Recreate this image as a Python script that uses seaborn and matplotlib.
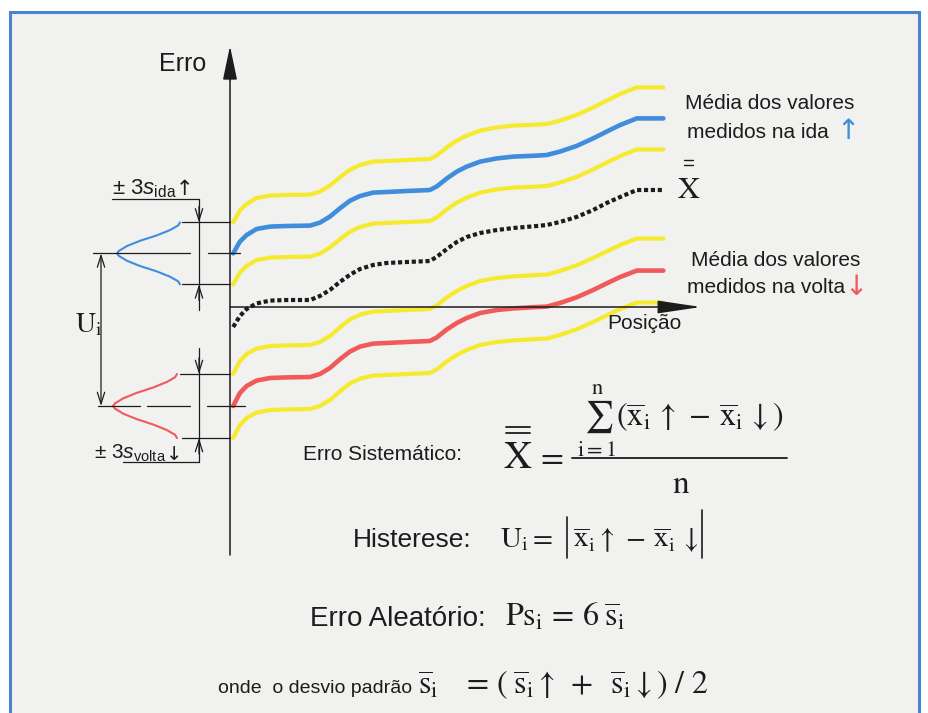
import matplotlib
matplotlib.use("Agg")
import matplotlib.pyplot as plt
import numpy as np
import pandas as pd
import seaborn as sns
from matplotlib.patches import Rectangle

# ---------------------------------------------------------------------------
# Curves: mean error along the travel (ida = going up, volta = coming back)
# ---------------------------------------------------------------------------
posicao = [0.07, 0.22, 0.37, 0.59, 0.89, 1.26, 1.78, 2.00, 2.22, 2.44, 2.67,
           2.89, 3.18, 3.48, 3.93, 4.44, 4.59, 4.82, 5.04, 5.26, 5.56, 5.93,
           6.30, 6.82, 7.04, 7.33, 7.70, 8.07, 8.37, 8.67, 9.04, 9.63]

media_ida = [2.68, 3.27, 3.60, 3.90, 4.02, 4.05, 4.07, 4.22, 4.52, 4.93, 5.32,
             5.55, 5.72, 5.75, 5.80, 5.85, 6.02, 6.43, 6.77, 7.02, 7.27, 7.43,
             7.52, 7.57, 7.60, 7.77, 8.05, 8.43, 8.77, 9.10, 9.43, 9.43]

media_volta = [-4.95, -4.30, -3.95, -3.68, -3.55, -3.52, -3.50, -3.35, -3.05,
               -2.62, -2.22, -1.98, -1.83, -1.80, -1.75, -1.70, -1.53, -1.12,
               -0.80, -0.55, -0.30, -0.15, -0.07, 0.00, 0.02, 0.20, 0.48, 0.85,
               1.18, 1.50, 1.82, 1.82]

erro_sistematico = [-1.00, -0.45, -0.10, 0.18, 0.32, 0.35, 0.35, 0.55, 0.85,
                    1.25, 1.62, 1.90, 2.10, 2.20, 2.25, 2.30, 2.50, 2.90, 3.25,
                    3.50, 3.70, 3.85, 3.95, 4.05, 4.10, 4.25, 4.50, 4.85, 5.20,
                    5.50, 5.85, 5.85]

# +/- 3 s half widths of the dispersion bands
faixa_ida = 1.55
faixa_volta = 1.60

# Side-view bell profile of the dispersion (fraction of half band, fraction of depth)
sino_frac_y = [0.0, 0.08, 0.24, 0.41, 0.58, 0.75, 0.90, 1.0]
sino_frac_x = [0.0, 0.03, 0.16, 0.37, 0.63, 0.84, 0.97, 1.0]

# ---------------------------------------------------------------------------
W, H = 929, 713
X0PX, Y0PX = 230.0, 307.0     # origin of the Erro x Posição axes (pixels)
SX, SY = 45.0, 20.0           # pixels per unit


def xd(px):
    return (px - X0PX) / SX


def yd(py):
    return (Y0PX - py) / SY


sns.set_theme(style="white")
plt.rcParams["font.family"] = ["Liberation Sans", "DejaVu Sans"]
plt.rcParams["mathtext.fontset"] = "stix"
plt.rcParams["mathtext.rm"] = "Liberation Sans"
plt.rcParams["mathtext.it"] = "Liberation Sans:italic"
plt.rcParams["mathtext.bf"] = "Liberation Sans:bold"

ink = "#1c1c1c"
azul = "#3f8ddc"
vermelho = "#f05a5a"
amarelo = "#f6ea2f"

fig = plt.figure(figsize=(W / 100, H / 100), dpi=100)
fig.patch.set_facecolor("white")
ax = fig.add_axes([0, 0, 1, 1])
ax.set_xlim(xd(0), xd(W))
ax.set_ylim(yd(H), yd(0))
ax.axis("off")

# paper panel with blue frame
ax.add_patch(Rectangle((10 / W, -0.05), 909 / W, 1 - 12 / H + 0.05,
                       transform=ax.transAxes, facecolor="#f1f1ef",
                       edgecolor="#4b82d4", lw=2.2, zorder=0, clip_on=False))

df = pd.DataFrame({"posicao": posicao, "ida": media_ida,
                   "volta": media_volta, "xbar": erro_sistematico})

# dispersion bands (yellow) and mean curves
for col, faixa in (("ida", faixa_ida), ("volta", faixa_volta)):
    for sgn in (1, -1):
        sns.lineplot(x=df["posicao"], y=df[col] + sgn * faixa, ax=ax,
                     color=amarelo, lw=3.0, estimator=None, sort=False,
                     solid_capstyle="round", solid_joinstyle="round", zorder=3)
sns.lineplot(x=df["posicao"], y=df["ida"], ax=ax, color=azul, lw=3.3,
             estimator=None, sort=False, solid_capstyle="round",
             solid_joinstyle="round", zorder=4)
sns.lineplot(x=df["posicao"], y=df["volta"], ax=ax, color=vermelho, lw=3.3,
             estimator=None, sort=False, solid_capstyle="round",
             solid_joinstyle="round", zorder=4)
sns.lineplot(x=df["posicao"], y=df["xbar"], ax=ax, color=ink, lw=3.0,
             estimator=None, sort=False, linestyle=(0, (1.0, 0.65)),
             dash_capstyle="butt", zorder=4)

# Erro / Posição axes with arrows
ax.plot([0, 0], [yd(555), yd(70)], color=ink, lw=1.1, zorder=5)
ax.annotate("", xy=(0, yd(46)), xytext=(0, yd(80)),
            arrowprops=dict(arrowstyle="-|>,head_length=1.05,head_width=0.22",
                            mutation_scale=20, lw=1.1, color=ink,
                            shrinkA=0, shrinkB=0), zorder=6)
ax.annotate("", xy=(xd(701), 0), xytext=(0, 0),
            arrowprops=dict(arrowstyle="-|>,head_length=1.35,head_width=0.2",
                            mutation_scale=20, lw=1.1, color=ink,
                            shrinkA=0, shrinkB=0), zorder=6)
ax.text(xd(159), yd(71), "Erro", fontsize=18, ha="left", va="baseline", color=ink)
ax.text(xd(607), yd(329), "Posição", fontsize=15, ha="left", va="baseline", color=ink)

# right side labels
ax.text(xd(770), yd(109), "Média dos valores", fontsize=15, ha="center",
        va="baseline", color=ink)
ax.text(xd(687), yd(138), "medidos na ida", fontsize=15, ha="left",
        va="baseline", color=ink)
ax.text(xd(848), yd(139), "↑", fontsize=20, ha="center", va="baseline",
        color=azul, family="DejaVu Sans")
ax.text(xd(689), yd(198), r"$\mathrm{X}$", fontsize=22, ha="center",
        va="baseline", color=ink)
ax.plot([xd(684), xd(693)], [yd(160), yd(160)], color=ink, lw=1.0)
ax.plot([xd(684), xd(693)], [yd(165), yd(165)], color=ink, lw=1.0)
ax.text(xd(776), yd(266), "Média dos valores", fontsize=15, ha="center",
        va="baseline", color=ink)
ax.text(xd(687), yd(293), "medidos na volta", fontsize=15, ha="left",
        va="baseline", color=ink)
ax.text(xd(856), yd(295), "↓", fontsize=20, ha="center", va="baseline",
        color=vermelho, family="DejaVu Sans")

# ---------------------------------------------------------------------------
# dispersion bells and dimension lines on the left
# ---------------------------------------------------------------------------
def sino(centro, faixa, x_pico, x_base, cor):
    fy = np.array(sino_frac_y)
    fx = np.array(sino_frac_x)
    ys = np.concatenate([centro + faixa * fy[::-1], centro - faixa * fy[1:]])
    xs = np.concatenate([fx[::-1], fx[1:]])
    xs = xd(x_pico) + xs * (xd(x_base) - xd(x_pico))
    sns.lineplot(x=xs, y=ys, ax=ax, color=cor, lw=1.5, estimator=None,
                 sort=False, zorder=4)


def seta(x_px, y_de, y_ate):
    ax.annotate("", xy=(xd(x_px), y_ate), xytext=(xd(x_px), y_de),
                arrowprops=dict(arrowstyle="->,head_length=0.7,head_width=0.22",
                                mutation_scale=12, lw=0.9, color=ink,
                                shrinkA=0, shrinkB=0))


def hline(x1, x2, y):
    ax.plot([xd(x1), xd(x2)], [y, y], color=ink, lw=0.9, zorder=5)


c_ida = media_ida[0]
c_volta = media_volta[0]

sino(c_ida, faixa_ida, 117, 180, azul)
sino(c_volta, faixa_volta, 113, 177, vermelho)

# ida band limits
hline(182, 230, c_ida + faixa_ida)
hline(182, 230, c_ida - faixa_ida)
hline(93, 190, c_ida)
hline(208, 240, c_ida)
hline(112, 199, c_ida + faixa_ida + 1.15)
ax.plot([xd(199)] * 2, [c_ida + faixa_ida + 1.15, c_ida - faixa_ida - 1.3],
        color=ink, lw=0.9)
seta(199, c_ida + faixa_ida + 0.8, c_ida + faixa_ida)
seta(199, c_ida - faixa_ida - 0.8, c_ida - faixa_ida)

# volta band limits
hline(180, 230, c_volta + faixa_volta)
hline(182, 230, c_volta - faixa_volta)
hline(98, 140, c_volta)
hline(147, 190, c_volta)
hline(207, 245, c_volta)
hline(123, 199, c_volta - faixa_volta - 1.2)
ax.plot([xd(199)] * 2, [c_volta + faixa_volta + 1.3, c_volta - faixa_volta - 1.2],
        color=ink, lw=0.9)
seta(199, c_volta + faixa_volta + 0.8, c_volta + faixa_volta)
seta(199, c_volta - faixa_volta - 0.8, c_volta - faixa_volta)

# hysteresis U_i between both means
ax.annotate("", xy=(xd(101), c_volta), xytext=(xd(101), c_ida),
            arrowprops=dict(arrowstyle="<->,head_length=0.7,head_width=0.22",
                            mutation_scale=12, lw=0.9, color=ink,
                            shrinkA=0, shrinkB=0))
ax.text(xd(75), yd(332), r"$\mathrm{U}_{\mathrm{i}}$", fontsize=20,
        ha="left", va="baseline", color=ink)

ax.text(xd(112), yd(194), r"$\pm\ 3\mathit{s}_{\mathrm{ida}}\,$",
        math_fontfamily="custom", fontsize=16, ha="left", va="baseline", color=ink)
ax.text(xd(184), yd(195), "↑", fontsize=15, ha="center", va="baseline",
        color=ink, family="DejaVu Sans")
ax.text(xd(94), yd(459), r"$\pm\ 3\mathit{s}_{\mathrm{volta}}$",
        math_fontfamily="custom", fontsize=15, ha="left", va="baseline", color=ink)
ax.text(xd(174), yd(460), "↓", fontsize=14, ha="center", va="baseline",
        color=ink, family="DejaVu Sans")

# ---------------------------------------------------------------------------
# formulas
# ---------------------------------------------------------------------------
ax.text(xd(303), yd(460), "Erro Sistemático:", fontsize=15, ha="left",
        va="baseline", color=ink)
ax.text(xd(518), yd(468), r"$\mathrm{X}$", fontsize=28, ha="center",
        va="baseline", color=ink)
ax.plot([xd(506), xd(530)], [yd(427)] * 2, color=ink, lw=1.3)
ax.plot([xd(506), xd(530)], [yd(433)] * 2, color=ink, lw=1.3)
ax.text(xd(550), yd(466), r"$=$", fontsize=24, ha="center", va="baseline", color=ink)
ax.text(xd(577), yd(426),
        r"$\sum_{\mathrm{i}=1}^{\mathrm{n}}(\overline{\mathrm{x}}_{\mathrm{i}}\,\uparrow\,-\,\overline{\mathrm{x}}_{\mathrm{i}}\,\downarrow)$",
        fontsize=23, ha="left", va="baseline", color=ink)
ax.plot([xd(572), xd(787)], [yd(458)] * 2, color=ink, lw=1.3)
ax.text(xd(681), yd(493), r"$\mathrm{n}$", fontsize=24, ha="center",
        va="baseline", color=ink)

ax.text(xd(353), yd(547), "Histerese:", fontsize=19, ha="left",
        va="baseline", color=ink)
ax.text(xd(500), yd(547), r"$\mathrm{U}_{\mathrm{i}}=$", fontsize=21,
        ha="left", va="baseline", color=ink)
ax.plot([xd(567)] * 2, [yd(517), yd(558)], color=ink, lw=1.2)
ax.plot([xd(702)] * 2, [yd(510), yd(558)], color=ink, lw=1.2)
ax.text(xd(573), yd(547),
        r"$\overline{\mathrm{x}}_{\mathrm{i}}\uparrow\,-\,\overline{\mathrm{x}}_{\mathrm{i}}\,\downarrow$",
        fontsize=21, ha="left", va="baseline", color=ink)

ax.text(xd(310), yd(626), "Erro Aleatório:", fontsize=20, ha="left",
        va="baseline", color=ink)
ax.text(xd(505), yd(626),
        r"$\mathrm{Ps}_{\mathrm{i}}\,=\,6\;\overline{\mathrm{s}}_{\mathrm{i}}$",
        fontsize=23, ha="left", va="baseline", color=ink)

ax.text(xd(218), yd(693), "onde  o desvio padrão", fontsize=14, ha="left",
        va="baseline", color=ink)
ax.text(xd(418), yd(693),
        r"$\overline{\mathrm{s}}_{\mathrm{i}}\quad=\,(\;\overline{\mathrm{s}}_{\mathrm{i}}\uparrow\;+\;\;\overline{\mathrm{s}}_{\mathrm{i}}\downarrow)\ /\ 2$",
        fontsize=23, ha="left", va="baseline", color=ink)

fig.savefig("out.png", dpi=100, facecolor=fig.get_facecolor())
